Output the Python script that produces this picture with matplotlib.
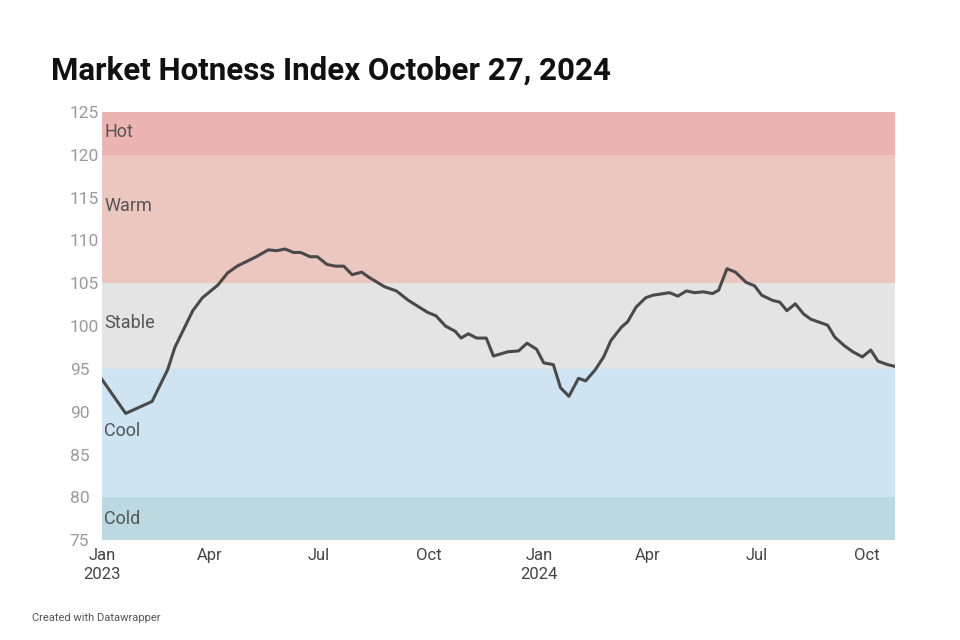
import matplotlib
matplotlib.use("Agg")
import matplotlib.pyplot as plt
import pandas as pd

days_since_2023 = [0,20,42,49,55,61,69,76,84,97,105,113,129,139,146,153,160,166,174,180,188,195,202,209,217,223,236,246,256,272,279,287,295,300,306,313,321,327,339,348,355,363,369,377,383,390,398,404,412,419,425,434,439,446,454,460,474,481,488,495,502,510,515,522,529,538,545,551,560,566,572,579,586,592,606,612,620,627,635,642,648,656,662]
index_values = [93.8,89.8,91.2,93.2,94.9,97.5,99.8,101.8,103.3,104.8,106.2,107.0,108.1,108.9,108.8,109.0,108.6,108.6,108.1,108.1,107.2,107.0,107.0,106.0,106.3,105.7,104.6,104.1,103.0,101.6,101.2,100.0,99.4,98.6,99.1,98.6,98.6,96.5,97.0,97.1,98.0,97.3,95.7,95.5,92.8,91.8,93.9,93.6,94.9,96.4,98.3,99.9,100.5,102.2,103.3,103.6,103.9,103.5,104.1,103.9,104.0,103.8,104.2,106.7,106.3,105.1,104.7,103.6,103.0,102.8,101.8,102.6,101.4,100.8,100.1,98.7,97.7,97.0,96.4,97.2,95.9,95.5,95.3]
band_names = ["Cold", "Cool", "Stable", "Warm", "Hot"]
band_ranges = [(75, 80), (80, 95), (95, 105), (105, 120), (120, 125)]
band_colors = ["#bcd9e1", "#cfe4f3", "#e4e4e4", "#ebc7c0", "#ecb4b2"]
band_label_y = [77.5, 87.7, 100.4, 114.0, 122.7]
y_ticks = [75, 80, 85, 90, 95, 100, 105, 110, 115, 120, 125]
x_tick_dates = ["2023-01-01","2023-04-01","2023-07-01","2023-10-01","2024-01-01","2024-04-01","2024-07-01","2024-10-01"]
x_tick_labels = ["Jan\n2023","Apr","Jul","Oct","Jan\n2024","Apr","Jul","Oct"]

plt.rcParams["font.family"] = "Roboto"
dates = pd.Timestamp("2023-01-01") + pd.to_timedelta(days_since_2023, unit="D")
start, end = pd.Timestamp("2023-01-01"), dates[-1]

fig = plt.figure(figsize=(9.6, 6.4), dpi=100)
ax = fig.add_axes([0.106, 0.156, 0.826, 0.669])
for (lo, hi), c, name, ly in zip(band_ranges, band_colors, band_names, band_label_y):
    ax.axhspan(lo, hi, color=c, lw=0, zorder=0)
    ax.text(0.003, ly, name, transform=ax.get_yaxis_transform(), fontsize=13,
            color="#555555", va="center", ha="left")
ax.plot(dates, index_values, color="#4a4a4a", lw=2.2, zorder=3)
ax.set_xlim(start, end)
ax.set_ylim(75, 125)
ax.set_yticks(y_ticks)
ax.set_xticks(pd.to_datetime(x_tick_dates))
ax.set_xticklabels(x_tick_labels, fontsize=12, color="#444444", linespacing=1.3)
ax.tick_params(axis="y", labelsize=12.5, labelcolor="#9a9a9a", length=0, pad=23)
for lab in ax.get_yticklabels():
    lab.set_horizontalalignment("left")
ax.tick_params(axis="x", length=0, pad=6)
for s in ax.spines.values():
    s.set_visible(False)

fig.text(0.053, 0.875, "Market Hotness Index October 27, 2024", fontsize=22.5,
         fontweight="bold", color="#111111")
fig.text(0.033, 0.03, "Created with Datawrapper", fontsize=8, color="#555555")
fig.savefig("out.png", dpi=100)
